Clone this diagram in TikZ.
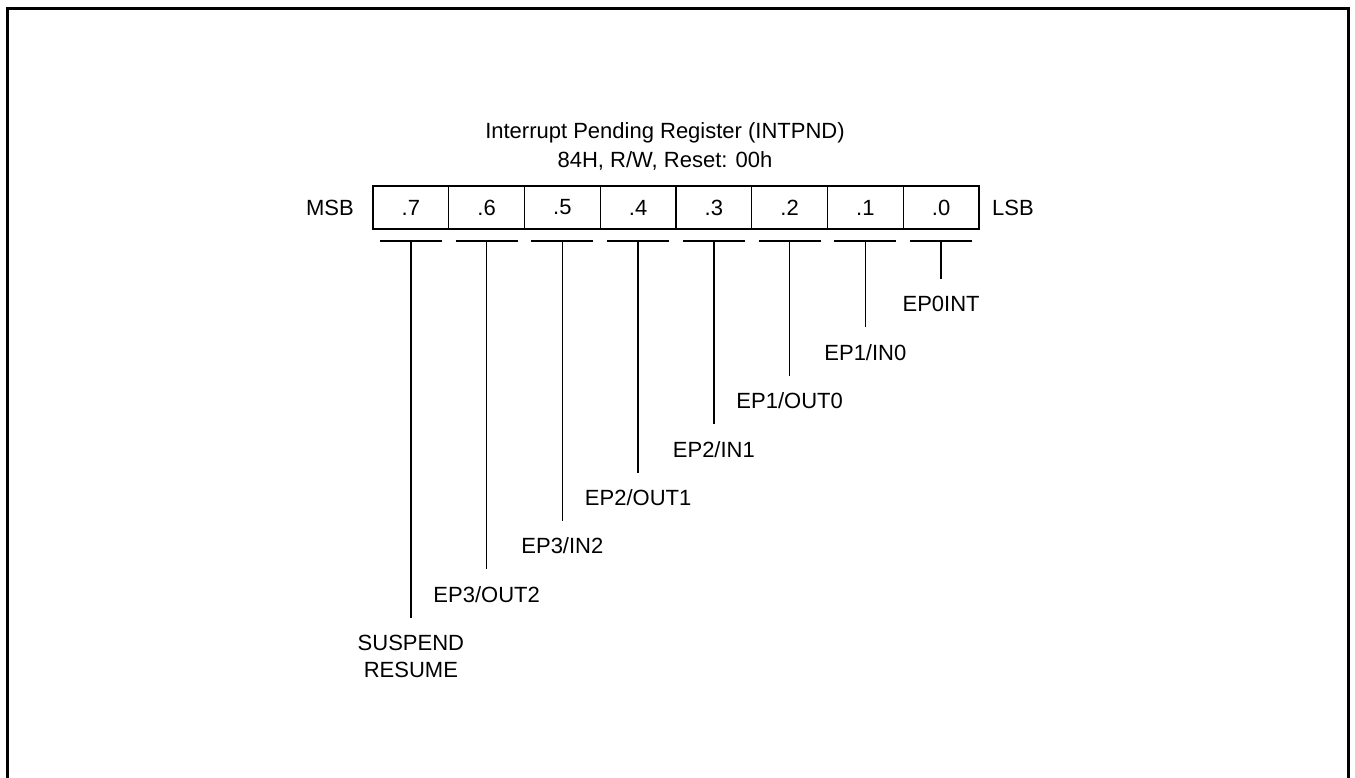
\documentclass[tikz,border=0pt]{standalone}
\usepackage{fontspec}
\setmainfont{Liberation Sans}
\usetikzlibrary{positioning}

\begin{document}
\begin{tikzpicture}[x=1pt,y=-1pt,
    font=\fontsize{22}{27}\selectfont,
    cell/.style={draw,line width=1.4pt,minimum width=75.75pt,
      minimum height=43pt,inner sep=0pt},
    lbl/.style={inner sep=0pt,outer sep=0pt,align=center},
    tick/.style={line width=1.4pt}
  ]
    \useasboundingbox (0,0) rectangle (1355,778);
    \clip (0,0) rectangle (1355,778);
    % outer frame, open at the bottom
    \draw[line width=3pt] (7.5,800) -- (7.5,8.5) -- (1348.5,8.5) -- (1348.5,800);

    \node[lbl,anchor=base] (title) at (665,139)
      {Interrupt Pending Register (INTPND)};
    \node[lbl,anchor=base] (addr) at (665,168) {84H, R/W, Reset: 00h};

    \node[lbl] (msb) at (330,207.5) {MSB};
    \node[lbl] (lsb) at (1013,207.5) {LSB};

    % register cells, bar and lead to each bit name
    \foreach \b/\name in {7/{SUSPEND\\RESUME},6/{EP3/OUT2},5/{EP3/IN2},
        4/{EP2/OUT1},3/{EP2/IN1},2/{EP1/OUT0},1/{EP1/IN0},0/{EP0INT}}{
      \pgfmathsetmacro{\cx}{373+75.75*(7-\b)+37.875}
      \pgfmathsetmacro{\ey}{279+48.4*\b+17}
      \node[cell] (c\b) at (\cx,207.5) {.\b};
      \coordinate (t\b) at (\cx,241);
      \draw[tick] ([xshift=-31pt]t\b) -- ([xshift=31pt]t\b);
      \node[lbl,anchor=north] (n\b) at (\cx,\ey) {\name};
      \draw[tick,shorten >=17pt] (t\b) -- (n\b.north);
    }
  \end{tikzpicture}
\end{document}
